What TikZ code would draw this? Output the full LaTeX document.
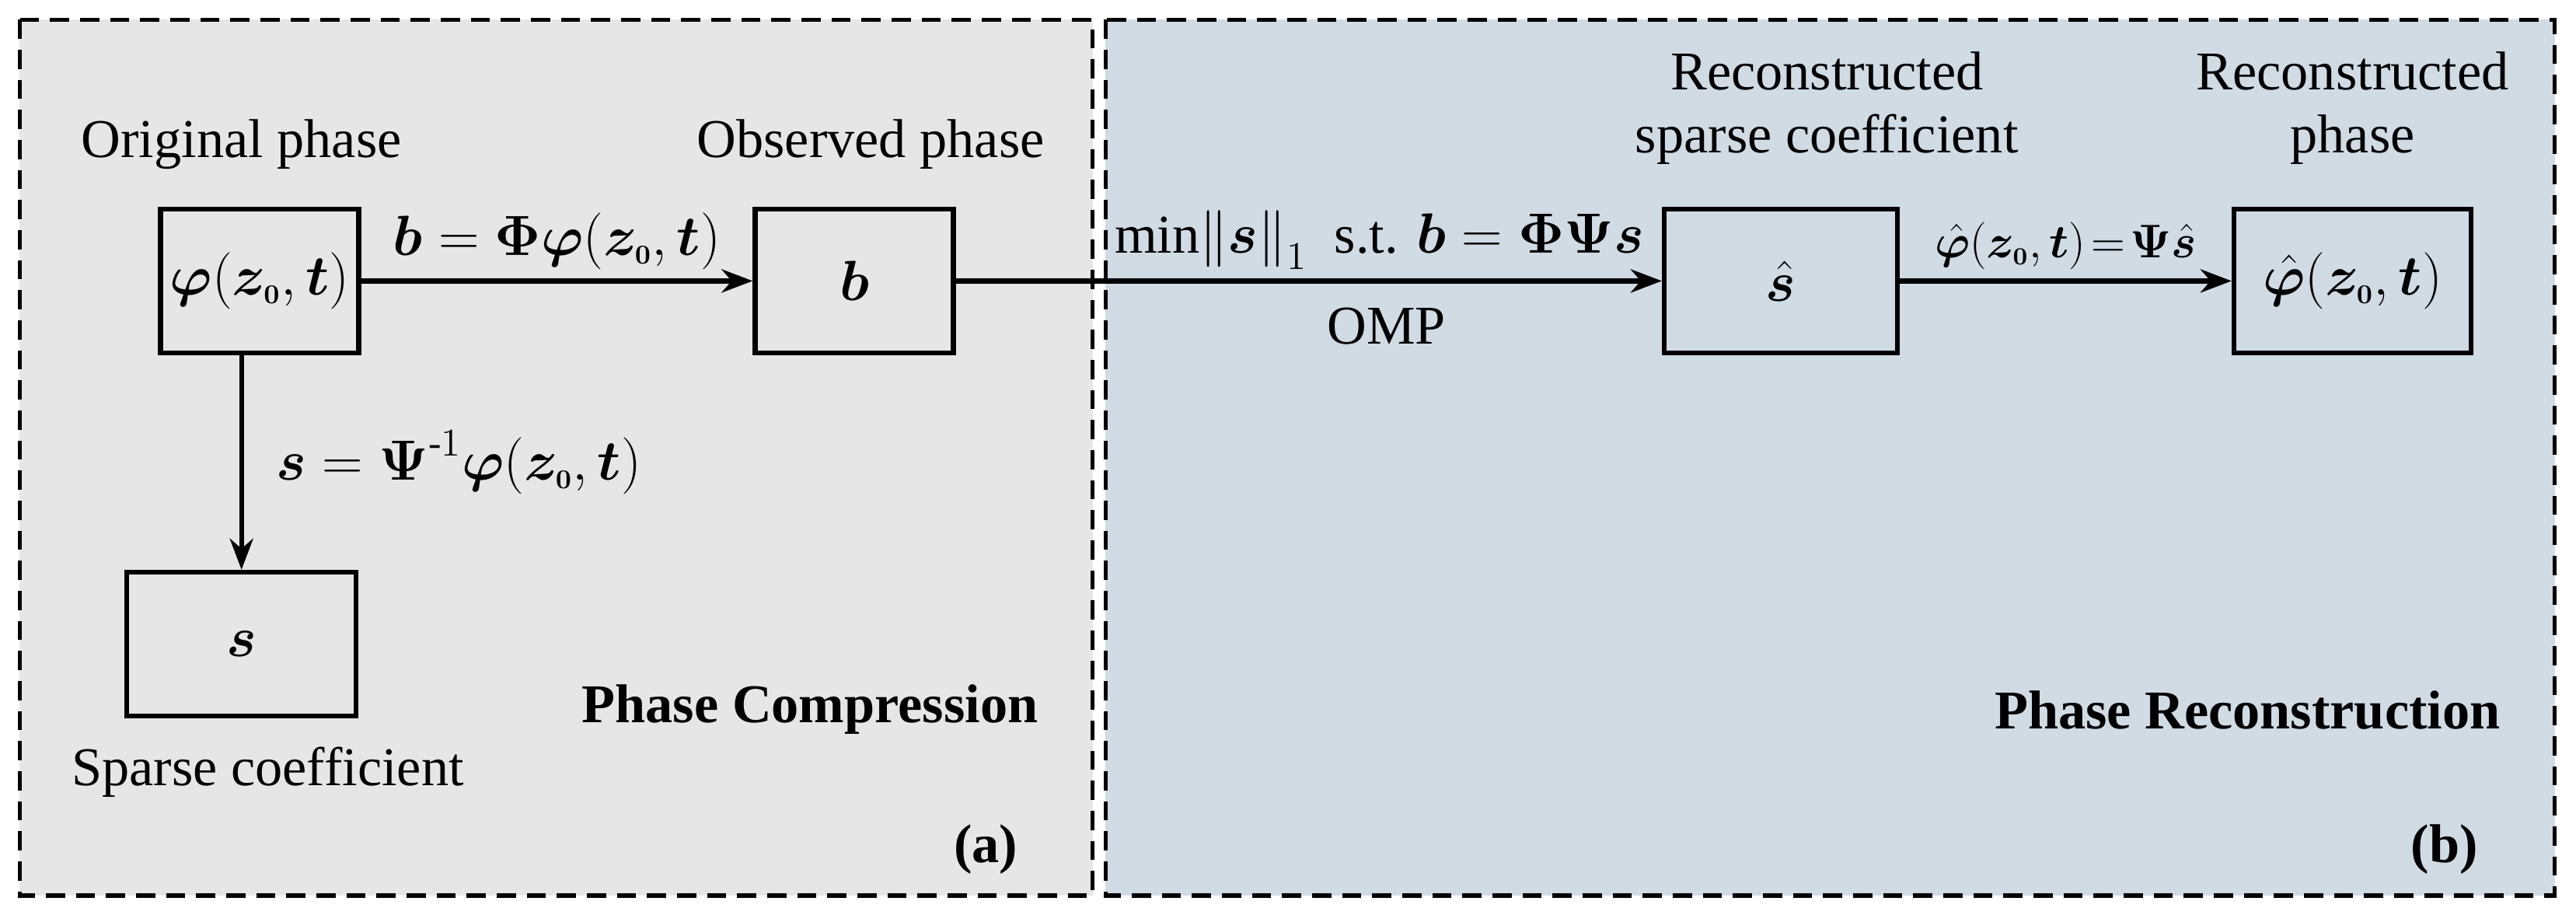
\documentclass[tikz,border=0pt]{standalone}
\usepackage{amsmath,amssymb,bm}
\usepackage{fontspec}
\setmainfont{Liberation Serif}
\usetikzlibrary{arrows.meta}
\definecolor{leftbg}{RGB}{230,230,230}
\definecolor{rightbg}{RGB}{208,219,228}
\newcommand{\phz}{\bm{\varphi}\!\left(\bm{z_{\scriptscriptstyle 0}},\bm{t}\right)}
\begin{document}
\begin{tikzpicture}[x=0.2113mm, y=-0.2113mm,
        every node/.style={font=\fontsize{20}{23}\selectfont},
        box/.style={draw, line width=1.8pt, minimum width=25.5mm, minimum height=18.5mm},
        panel/.style={draw, dash pattern=on 7pt off 4pt, line width=1.6pt},
        link/.style={-{Stealth[length=4mm,width=3mm]}, line width=1.8pt},
        tag/.style={font=\fontsize{20}{23}\selectfont\bfseries}]
    \useasboundingbox (0,0) rectangle (1568,561);
    \fill[leftbg] (12,12) rectangle (665,545);
    \fill[rightbg] (673,12) rectangle (1555,545);
    \draw[panel] (12,12) rectangle (665,545);
    \draw[panel] (673,12) rectangle (1555,545);

    \node[box] (phi) at (158,171) {$\phz$};
    \node[box] (b) at (520,171) {$\bm{b}$};
    \node[box, minimum width=29.5mm] (s) at (147,392) {$\bm{s}$};
    \node[box, minimum width=30mm] (shat) at (1084,171) {$\hat{\bm{s}}$};
    \node[box, minimum width=30.5mm] (phihat) at (1432,171) {$\hat{\bm{\varphi}}\!\left(\bm{z_{\scriptscriptstyle 0}},\bm{t}\right)$};

    \node (lorig) at (147,88) {Original phase};
    \node (lobs) at (530,88) {Observed phase};
    \node[align=center] (lrsc) at (1112,66) {Reconstructed\\sparse coefficient};
    \node[align=center] (lrph) at (1432,66) {Reconstructed\\phase};
    \node (lsp) at (163,470) {Sparse coefficient};
    \node[tag] (tcomp) at (493,432) {Phase Compression};
    \node[tag] (trec) at (1368,432) {Phase Reconstruction};
    \node[tag] (ta) at (600,517) {(a)};
    \node[tag] (tb) at (1488,517) {(b)};

    \draw[link] (phi) -- node[above] {$\bm{b}=\bm{\Phi}\phz$} (b);
    \draw[link] (phi.south -| s.north) -- node[right, xshift=3mm] {$\bm{s}=\bm{\Psi}^{\text{-}1}\phz$} (s);
    \draw[link] (b) -- node[above, pos=0.6] {min$\left\|\bm{s}\right\|_{1}$\ \ s.t. $\bm{b}=\bm{\Phi\Psi s}$}
        node[below, pos=0.61, yshift=-2mm] {OMP} (shat);
    \draw[link] (shat) -- node[above, inner xsep=0pt, font=\fontsize{18}{21}\selectfont] {$\hat{\bm{\varphi}}\!\left(\bm{z_{\scriptscriptstyle 0}},\bm{t}\right)\!=\!\bm{\Psi}\hat{\bm{s}}$} (phihat);
\end{tikzpicture}
\end{document}
